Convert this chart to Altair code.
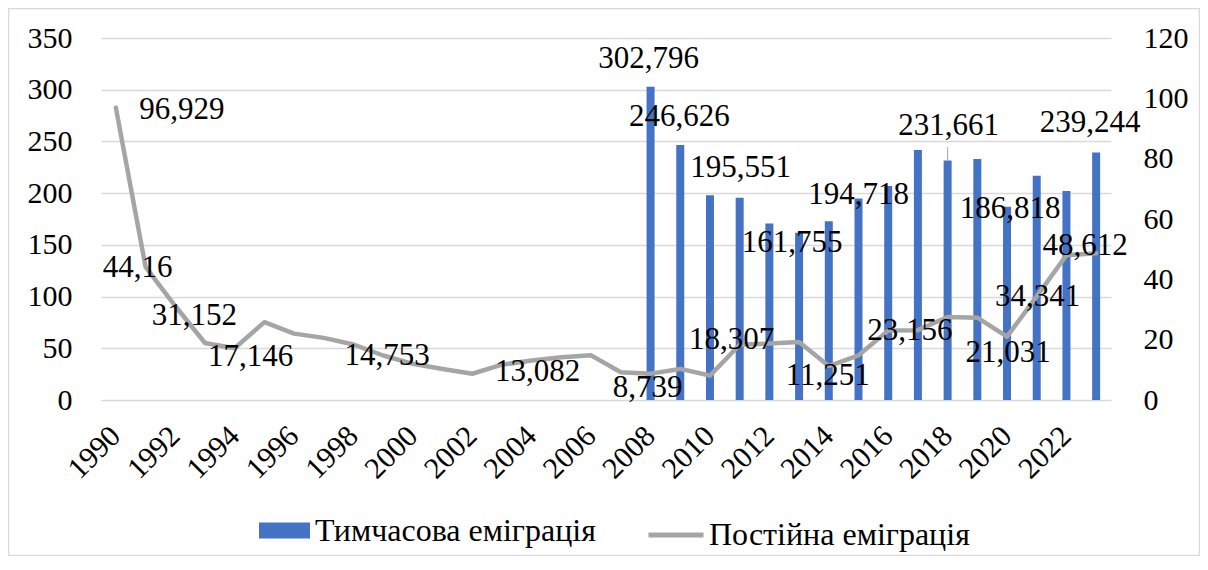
import altair as alt
import pandas as pd

# ---------------- data ----------------
years = list(range(1990, 2024))
permanent = [96.929, 44.16, 31.152, 18.9, 17.146, 25.8, 22.0, 20.6, 18.4, 14.753,
             12.0, 10.3, 8.7, 11.7, 13.082, 14.2, 14.8, 9.2, 8.739, 10.3,
             8.1, 18.307, 18.7, 19.2, 11.251, 14.8, 23.0, 23.156, 27.5, 27.3,
             21.031, 34.341, 48.0, 48.612]
temp_years = list(range(2008, 2024))
temporary = [302.796, 246.626, 198.0, 195.551, 170.6, 161.755, 172.8, 194.718,
             207.0, 241.8, 231.661, 233.0, 186.818, 216.7, 202.0, 239.244]
bar_label_years = [2008, 2009, 2011, 2013, 2015, 2018, 2020, 2023]
line_label_years = [1990, 1991, 1992, 1994, 1999, 2004, 2008, 2011, 2014, 2017,
                    2020, 2021, 2023]
left_ticks = [0, 50, 100, 150, 200, 250, 300, 350]
right_ticks = [0, 20, 40, 60, 80, 100, 120]
x_tick_years = years[::2]
series_temp = "Тимчасова еміграція"
series_perm = "Постійна еміграція"

# ---------------- styling / annotation placement ----------------
FONT = "'Liberation Serif', 'Times New Roman', Times, serif"
BLUE = "#4472c4"
GREY = "#a5a5a5"
GRID = "#d9d9d9"
bar_label_offsets = {2008: (-2, -19), 2009: (-1, -19), 2011: (1, -21), 2013: (-7, 19),
                     2015: (0, 5), 2018: (1, -25), 2020: (3, 11), 2023: (-6, -21)}
line_label_offsets = {1990: (66, 11), 1991: (-8, 10), 1992: (19, 19), 1994: (16, 18),
                      1999: (4, 10), 2004: (6, 20), 2008: (-3, 23), 2011: (-8, 4),
                      2014: (-1, 19), 2017: (-8, 10), 2020: (1, 25), 2021: (1, 10),
                      2023: (-11, 2)}
leader_year = 2018
leader_top = 244.5

def fmt(v):
    return repr(v).replace(".", ",")

bar_df = pd.DataFrame({"year": temp_years, "value": temporary,
                       "label": [fmt(v) for v in temporary],
                       "series": series_temp})
line_df = pd.DataFrame({"year": years, "value": permanent,
                        "label": [fmt(v) for v in permanent],
                        "series": series_perm})

x_enc = alt.X("year:O",
              scale=alt.Scale(domain=years, paddingInner=0, paddingOuter=0),
              axis=alt.Axis(values=x_tick_years, title=None, labelAngle=315,
                            labelAlign="right", labelBaseline="middle",
                            labelPadding=31, ticks=False, domain=False, grid=False,
                            labelFontSize=30, labelFont=FONT, labelColor="black"))

y_left = alt.Y("value:Q",
               scale=alt.Scale(domain=[0, 350], nice=False, zero=True),
               axis=alt.Axis(values=left_ticks, title=None, orient="left",
                             grid=True, gridColor=GRID, gridWidth=1.5,
                             domain=False, ticks=False, labelPadding=29,
                             labelFontSize=30, labelFont=FONT, labelColor="black"))
y_right = alt.Y("value:Q",
                scale=alt.Scale(domain=[0, 120], nice=False, zero=True),
                axis=alt.Axis(values=right_ticks, title=None, orient="right",
                              grid=False, domain=False, ticks=False, labelPadding=32,
                              labelFontSize=30, labelFont=FONT, labelColor="black"))

bars = alt.Chart(bar_df).mark_bar(size=8).encode(
    x=x_enc, y=y_left,
    fill=alt.Fill("series:N",
                  scale=alt.Scale(domain=[series_temp], range=[BLUE]),
                  legend=alt.Legend(orient="none", legendX=158, legendY=467,
                                    title=None, padding=0, labelFont=FONT,
                                    labelFontSize=32, labelColor="black",
                                    labelLimit=500, labelOffset=5,
                                    symbolType="M-1,-0.31L1,-0.31L1,0.31L-1,0.31Z",
                                    symbolSize=2601, symbolStrokeWidth=0,
                                    symbolOpacity=1)))

bar_texts = []
for yr in bar_label_years:
    dx, dy = bar_label_offsets[yr]
    bar_texts.append(
        alt.Chart(bar_df).transform_filter(alt.datum.year == yr)
        .mark_text(dx=dx, dy=dy, align="center", baseline="alphabetic",
                   font=FONT, fontSize=31, color="black")
        .encode(x=x_enc, y=y_left, text="label:N"))

leader_df = pd.DataFrame({"year": [leader_year],
                          "value": [temporary[temp_years.index(leader_year)]],
                          "top": [leader_top]})
leader = alt.Chart(leader_df).mark_rule(color=GREY, strokeWidth=1).encode(
    x=x_enc, y=y_left, y2="top:Q")

left_group = alt.layer(bars, leader, *bar_texts)

line = alt.Chart(line_df).mark_line(strokeWidth=4.5, strokeJoin="round",
                                    strokeCap="round").encode(
    x=x_enc, y=y_right,
    stroke=alt.Stroke("series:N",
                      scale=alt.Scale(domain=[series_perm], range=[GREY]),
                      legend=alt.Legend(orient="none", legendX=545, legendY=467,
                                        title=None, padding=0, labelFont=FONT,
                                        labelFontSize=32, labelColor="black",
                                        labelLimit=500, labelOffset=3,
                                        symbolType="stroke", symbolSize=3025,
                                        symbolStrokeWidth=5)))

line_texts = []
for yr in line_label_years:
    dx, dy = line_label_offsets[yr]
    line_texts.append(
        alt.Chart(line_df).transform_filter(alt.datum.year == yr)
        .mark_text(dx=dx, dy=dy, align="center", baseline="alphabetic",
                   font=FONT, fontSize=31, color="black")
        .encode(x=x_enc, y=y_right, text="label:N"))

right_group = alt.layer(line, *line_texts)

border = alt.Chart(pd.DataFrame({"a": [0]})).mark_rect(
    fillOpacity=0, stroke=GRID, strokeWidth=1.5).encode(
    x=alt.value(-92.5), x2=alt.value(1098.5), y=alt.value(-29.5), y2=alt.value(517.5))

chart = alt.layer(border, left_group, right_group).resolve_scale(
    y="independent").properties(
    width=1010, height=362,
    padding={"left": 93, "top": 30, "right": 89, "bottom": 156},
    autosize=alt.AutoSizeParams(type="none"),
).configure(font=FONT).configure_view(strokeWidth=0)

chart.save("out.html", embed_options={"renderer": "svg", "actions": False})
